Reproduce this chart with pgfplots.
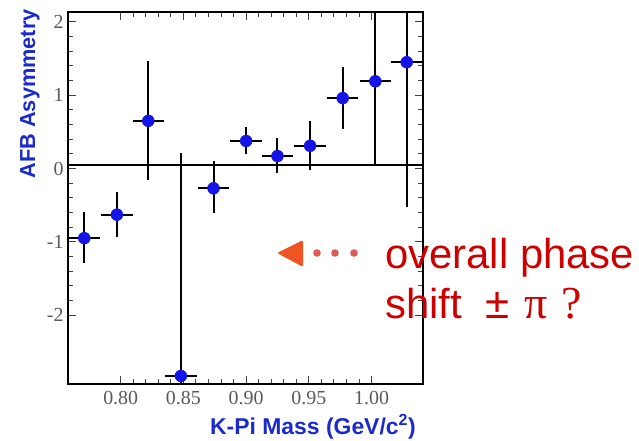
\documentclass[border=0pt]{standalone}
\usepackage{fontspec}
\setmainfont{Liberation Serif}
\newfontfamily\sans{Liberation Sans}
\usepackage{pgfplots}
\pgfplotsset{compat=1.18}
\definecolor{lblblue}{HTML}{1A2ACC}
\definecolor{ptblue}{HTML}{1414E6}
\definecolor{annred}{HTML}{CC0000}
\definecolor{arrorange}{HTML}{EE5522}
\definecolor{dotred}{HTML}{DD5A55}
\begin{document}
\begin{tikzpicture}
\begin{axis}[
  scale only axis, width=355bp, height=372bp,
  xmin=0.758, xmax=1.041, ymin=-2.94, ymax=2.135,
  axis line style={black, line width=1.2bp},
  xtick={0.80,0.85,0.90,0.95,1.00},
  ytick={-2,-1,0,1,2},
  minor x tick num=4, minor y tick num=4,
  tick align=inside, tick pos=both,
  major tick length=8bp, minor tick length=5bp,
  tick style={black!75, line width=1bp},
  /pgf/number format/assume math mode=true,
  ticklabel style={font=\fontsize{20}{20}\selectfont, text=black!65},
  xticklabel style={yshift=-4bp, /pgf/number format/fixed, /pgf/number format/fixed zerofill, /pgf/number format/precision=2},
  yticklabel style={xshift=-1bp},
  xlabel={\sans\bfseries K-Pi Mass (GeV/c\textsuperscript{2})},
  ylabel={\sans\bfseries AFB Asymmetry},
  xlabel style={at={(rel axis cs:0.69,0)}, anchor=center, yshift=-43bp, font=\fontsize{23}{23}\selectfont, text=lblblue},
  ylabel style={at={(rel axis cs:0,0.78)}, anchor=center, yshift=38bp, font=\fontsize{21.8}{21.8}\selectfont, text=lblblue},
  clip=true,
]
\addplot[black, line width=2bp, forget plot] coordinates {(0.758,0.05) (1.041,0.05)};
\addplot[only marks, mark=*, mark size=6bp, mark options={fill=ptblue, draw=ptblue},
  error bars/.cd, x dir=both, x explicit, y dir=both, y explicit,
  error mark=none, error bar style={black, line width=2bp}]
coordinates {
 (0.771,-0.95) +- (0.0125,0.36) -= (0.0125,0.34)
 (0.797,-0.63) +- (0.0125,0.31) -= (0.0125,0.30)
 (0.822, 0.65) +- (0.0125,0.82) -= (0.0125,0.81)
 (0.848,-2.83) +- (0.0125,3.04) -= (0.0125,0.20)
 (0.874,-0.27) +- (0.0125,0.37) -= (0.0125,0.34)
 (0.900, 0.375) +- (0.0125,0.19) -= (0.0125,0.18)
 (0.925, 0.17) +- (0.0125,0.25) -= (0.0125,0.23)
 (0.951, 0.31) +- (0.0125,0.34) -= (0.0125,0.33)
 (0.977, 0.96) +- (0.0125,0.42) -= (0.0125,0.42)
 (1.003, 1.19) +- (0.0125,1.14) -= (0.0125,1.14)
 (1.028, 1.45) +- (0.0125,1.98) -= (0.0125,1.98)
};
\coordinate (bl) at (rel axis cs:0,0);
\coordinate (tl) at (rel axis cs:0,1);
\coordinate (tr) at (rel axis cs:1,1);
\end{axis}
% annotation
\fill[arrorange, rounded corners=1.5bp] ([shift={(209bp,-241bp)}]tl) -- ([shift={(235bp,-228bp)}]tl) -- ([shift={(235bp,-255bp)}]tl) -- cycle;
\foreach \dx in {249,267,286} {\fill[dotred] ([shift={(\dx bp,-241bp)}]tl) circle (3.8bp);}
\node[anchor=base west, inner sep=0pt, text=annred, font=\sans\fontsize{42}{42}\selectfont] at ([shift={(317bp,-256bp)}]tl) {overall phase};
\node[anchor=base west, inner sep=0pt, text=annred, font=\sans\fontsize{42}{42}\selectfont] at ([shift={(317bp,-306bp)}]tl) {shift\hspace{24bp}{\fontsize{44}{44}\selectfont ±}\hspace{14bp}{\rmfamily\fontsize{46}{46}\selectfont π\hspace{14bp}?}};
\pgfresetboundingbox
\path ([shift={(-68bp,-57bp)}]bl) rectangle ([shift={(216bp,12bp)}]tr);
\end{tikzpicture}
\end{document}
